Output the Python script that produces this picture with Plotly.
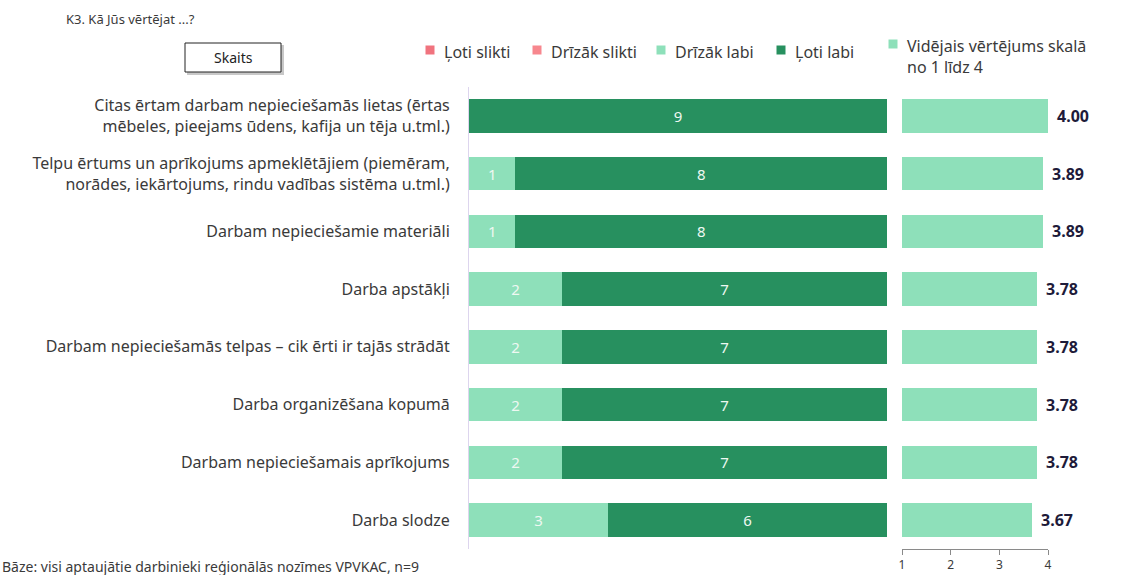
import plotly.graph_objects as go

categories = [
    "Citas ērtam darbam nepieciešamās lietas (ērtas<br>mēbeles, pieejams ūdens, kafija un tēja u.tml.)",
    "Telpu ērtums un aprīkojums apmeklētājiem (piemēram,<br>norādes, iekārtojums, rindu vadības sistēma u.tml.)",
    "Darbam nepieciešamie materiāli",
    "Darba apstākļi",
    "Darbam nepieciešamās telpas – cik ērti ir tajās strādāt",
    "Darba organizēšana kopumā",
    "Darbam nepieciešamais aprīkojums",
    "Darba slodze",
]
series_names = ["Ļoti slikti", "Drīzāk slikti", "Drīzāk labi", "Ļoti labi"]
loti_slikti = [0, 0, 0, 0, 0, 0, 0, 0]
drizak_slikti = [0, 0, 0, 0, 0, 0, 0, 0]
drizak_labi = [0, 1, 1, 2, 2, 2, 2, 3]
loti_labi = [9, 8, 8, 7, 7, 7, 7, 6]
mean_scores = [4.00, 3.89, 3.89, 3.78, 3.78, 3.78, 3.78, 3.67]
mean_name = "Vidējais vērtējums skalā<br>no 1 līdz 4"
scale_ticks = [1, 2, 3, 4]

colors = ["#F0737E", "#F7878E", "#8EE0BA", "#27905F"]
FONT = "Noto Sans"
TXT = "#3a3a3a"

fig = go.Figure()
for name, vals, col in zip(series_names, [loti_slikti, drizak_slikti, drizak_labi, loti_labi], colors):
    fig.add_trace(go.Bar(
        y=categories, x=vals, orientation="h", name=name,
        marker=dict(color=col, line=dict(width=0)),
        text=[str(v) if v else "" for v in vals],
        textposition="inside", insidetextanchor="middle",
        textfont=dict(color="#eef8f2", size=15, family=FONT),
        width=0.58, xaxis="x", yaxis="y", showlegend=False,
    ))

fig.add_trace(go.Bar(
    y=categories, x=mean_scores, orientation="h", name=mean_name,
    marker=dict(color="#8EE0BA", line=dict(width=0)),
    width=0.58, xaxis="x2", yaxis="y2", showlegend=False,
))
for c, m in zip(categories, mean_scores):
    fig.add_annotation(x=m, y=c, xref="x2", yref="y2", text=f"<b>{m:.2f}</b>",
                       showarrow=False, xanchor="left", xshift=7,
                       font=dict(size=16, color="#1e1b3a", family=FONT))

W, H = 1137, 575
def px(x): return x / W
def py(y): return 1 - y / H

fig.update_layout(
    width=W, height=H, barmode="stack", bargap=0.42,
    margin=dict(l=0, r=0, t=0, b=0),
    paper_bgcolor="white", plot_bgcolor="white",
    font=dict(family=FONT, color=TXT),
    xaxis=dict(domain=[px(469), px(887)], range=[0, 9], visible=False, fixedrange=True),
    yaxis=dict(domain=[py(549), py(87)], autorange="reversed", showgrid=False,
               showline=True, linecolor="#ddd5ee", linewidth=1, zeroline=False,
               ticks="", ticklabelstandoff=15, automargin=False,
               tickfont=dict(size=16, color=TXT, family=FONT)),
    xaxis2=dict(domain=[px(902), px(1048)], range=[1, 4], anchor="y2",
                tickvals=scale_ticks, ticks="outside", ticklen=5, tickcolor="#8a8a8a",
                showline=True, linecolor="#8a8a8a", showgrid=False, zeroline=False,
                tickfont=dict(size=12, color=TXT, family=FONT), automargin=False),
    yaxis2=dict(domain=[py(549), py(87)], anchor="x2", matches="y", showticklabels=False,
                showgrid=False, showline=False, zeroline=False, ticks=""),
)

# title, box, footer
fig.add_annotation(x=px(64), y=py(19), xref="paper", yref="paper", text="K3. Kā Jūs vērtējat ...?",
                   showarrow=False, xanchor="left", yanchor="middle", font=dict(size=13, color=TXT))
fig.add_shape(type="rect", xref="paper", yref="paper", x0=px(187), x1=px(284), y0=py(45), y1=py(75),
              line=dict(width=0), fillcolor="#c8c8c8", layer="below")
fig.add_shape(type="rect", xref="paper", yref="paper", x0=px(185), x1=px(281), y0=py(43), y1=py(72),
              line=dict(width=1, color="#222"), fillcolor="white")
fig.add_annotation(x=px(233), y=py(57.5), xref="paper", yref="paper", text="Skaits",
                   showarrow=False, xanchor="center", yanchor="middle", font=dict(size=14, color="#222"))
fig.add_annotation(x=0, y=py(566), xref="paper", yref="paper",
                   text="Bāze: visi aptaujātie darbinieki reģionālās nozīmes VPVKAC, n=9",
                   showarrow=False, xanchor="left", yanchor="middle", font=dict(size=14, color=TXT))

# legend
legend_items = [(series_names[0], colors[0], 430, 50), (series_names[1], colors[1], 537, 50),
                (series_names[2], colors[2], 661, 50), (series_names[3], colors[3], 781, 50),
                (mean_name, "#8EE0BA", 893, 44)]
for name, col, x, y in legend_items:
    fig.add_shape(type="rect", xref="paper", yref="paper", x0=px(x - 4.5), x1=px(x + 4.5),
                  y0=py(y + 4.5), y1=py(y - 4.5), line=dict(width=0), fillcolor=col)
    fig.add_annotation(x=px(x + 12), y=py(y - 11), xref="paper", yref="paper", text=name,
                       showarrow=False, xanchor="left", yanchor="top", align="left",
                       font=dict(size=16, color=TXT))

fig.write_html("out.html")
